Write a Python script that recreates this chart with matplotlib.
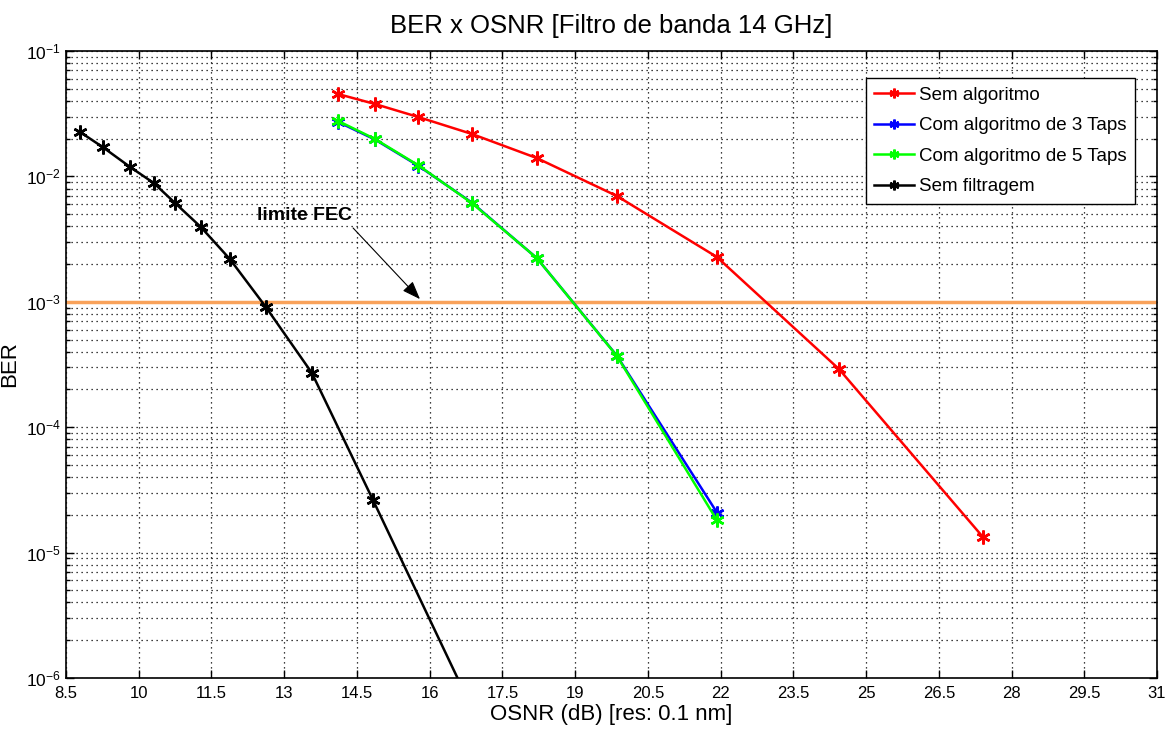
import matplotlib
matplotlib.use("Agg")
import matplotlib.pyplot as plt
from matplotlib.ticker import LogLocator, FixedLocator, NullFormatter, NullLocator

# ---- data ----
x_sem_filtragem = [8.79, 9.26, 9.82, 10.31, 10.75, 11.28, 11.88, 12.62, 13.57, 14.83, 17.0]
y_sem_filtragem = [0.0226, 0.0171, 0.0119, 0.00885, 0.00613, 0.00395, 0.00219, 9.1e-4, 2.71e-4, 2.63e-5, 4.5e-7]

x_sem_alg = [14.11, 14.87, 15.76, 16.87, 18.21, 19.86, 21.92, 24.44, 27.41]
y_sem_alg = [0.0454, 0.0378, 0.0298, 0.0218, 0.0140, 0.00698, 0.00228, 2.91e-4, 1.33e-5]

x_3taps = [14.11, 14.87, 15.76, 16.87, 18.21, 19.86, 21.93]
y_3taps = [0.0272, 0.0197, 0.0122, 0.00618, 0.00223, 3.72e-4, 2.07e-5]

x_5taps = [14.11, 14.87, 15.76, 16.87, 18.21, 19.86, 21.92]
y_5taps = [0.0277, 0.0199, 0.0123, 0.00613, 0.00223, 3.70e-4, 1.82e-5]

fec_x = [8.5, 31]
fec_y = [1.0e-3, 1.0e-3]

labels = ["Sem algoritmo", "Com algoritmo de 3 Taps", "Com algoritmo de 5 Taps", "Sem filtragem"]
xticks = [8.5, 10, 11.5, 13, 14.5, 16, 17.5, 19, 20.5, 22, 23.5, 25, 26.5, 28, 29.5, 31]
xtick_labels = ["8.5", "10", "11.5", "13", "14.5", "16", "17.5", "19", "20.5", "22", "23.5", "25", "26.5", "28", "29.5", "31"]

# ---- style ----
plt.rcParams["font.family"] = ["Liberation Sans", "DejaVu Sans"]
plt.rcParams["mathtext.fontset"] = "custom"
plt.rcParams["mathtext.rm"] = "Liberation Sans"
plt.rcParams["mathtext.it"] = "Liberation Sans"

fig = plt.figure(figsize=(11.68, 7.35), dpi=100)
ax = fig.add_axes([0.0565, 0.0776, 0.9341, 0.853])

mk = (6, 2, 0)
ms = 10
mew = 1.8
lw = 1.8

ax.plot(fec_x, fec_y, color="#F9A25A", lw=2.5, zorder=2)
l1, = ax.plot(x_sem_alg, y_sem_alg, color="#FF0000", lw=lw, marker=mk, ms=ms, mew=mew, label=labels[0], zorder=3)
l2, = ax.plot(x_3taps, y_3taps, color="#0000FF", lw=lw, marker=mk, ms=ms, mew=mew, label=labels[1], zorder=3)
l3, = ax.plot(x_5taps, y_5taps, color="#00FF00", lw=lw, marker=mk, ms=ms, mew=mew, label=labels[2], zorder=4)
l4, = ax.plot(x_sem_filtragem, y_sem_filtragem, color="#000000", lw=lw, marker=mk, ms=ms, mew=mew, label=labels[3], zorder=3)

ax.set_yscale("log")
ax.set_xlim(8.5, 31)
ax.set_ylim(1e-6, 1e-1)
ax.xaxis.set_major_locator(FixedLocator(xticks))
ax.set_xticklabels(xtick_labels)
ax.xaxis.set_minor_locator(NullLocator())
ax.yaxis.set_major_locator(LogLocator(base=10, numticks=10))
ax.yaxis.set_minor_locator(LogLocator(base=10, subs=range(2, 10), numticks=20))
ax.yaxis.set_minor_formatter(NullFormatter())

ax.grid(True, which="major", linestyle=(0, (1, 3)), color="black", lw=0.9)
ax.grid(True, which="minor", axis="y", linestyle=(0, (1, 3)), color="black", lw=0.9)
ax.tick_params(which="both", direction="in", top=True, right=True, width=1, colors="black")
ax.tick_params(axis="x", labelsize=12, pad=6)
ax.tick_params(axis="y", labelsize=12.5)
ax.tick_params(which="major", length=6)
ax.tick_params(which="minor", length=3)
for s in ax.spines.values():
    s.set_linewidth(1.2)

ax.set_title("BER x OSNR [Filtro de banda 14 GHz]", fontsize=18.5, pad=13)
ax.set_xlabel("OSNR (dB) [res: 0.1 nm]", fontsize=16, labelpad=2)
ax.set_ylabel("BER", fontsize=16, labelpad=4)

ax.text(13.42, 4.92e-3, "limite FEC", fontsize=14, fontweight="bold", ha="center", va="center")
ax.annotate("", xy=(15.80, 1.05e-3), xytext=(14.42, 3.88e-3),
            arrowprops=dict(arrowstyle="-|>,head_length=0.8,head_width=0.3", color="black", lw=0.8,
                            mutation_scale=14, shrinkA=0, shrinkB=0))

leg = ax.legend(handles=[l1, l2, l3, l4], loc="upper right", bbox_to_anchor=(0.98, 0.957),
                borderaxespad=0, fontsize=13.5, frameon=True, fancybox=False,
                edgecolor="black", framealpha=1, handlelength=2.1, handletextpad=0.3,
                labelspacing=0.72, borderpad=0.45, markerscale=0.7)
leg.get_frame().set_linewidth(1.0)

fig.savefig("out.png", dpi=100)
